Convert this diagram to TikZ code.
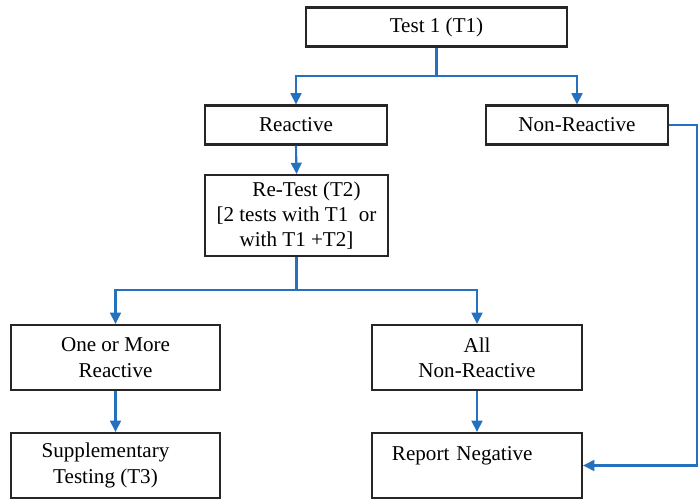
\documentclass[tikz,border=0pt]{standalone}
\usepackage{fontspec}
\setmainfont{Liberation Serif}
\usepackage{xcolor}
\usepackage{tikz}
\usetikzlibrary{arrows.meta, positioning}

\definecolor{flowblue}{RGB}{36,113,192}

\begin{document}
\begin{tikzpicture}[x=0.025cm, y=-0.025cm,
    font=\fontsize{15}{18}\selectfont,
    box/.style={draw=black!85, line width=1.5pt, inner sep=0pt, align=center},
    flow/.style={draw=flowblue, line width=1.5pt},
    arrow/.style={flow, -{Triangle[length=0.28cm,width=0.27cm]}}]

    \useasboundingbox (0,0) rectangle (699,500);

    % First test and its two outcomes
    \node[box, minimum width=6.525cm, minimum height=0.975cm] (t1) at (436.5,27) {Test 1 (T1)};
    \node[box, minimum width=4.55cm, minimum height=0.975cm] (react) at (296,125) {Reactive};
    \node[box, minimum width=4.55cm, minimum height=0.975cm] (nonreact) at (577,125) {Non-Reactive};

    % Re-test after a reactive result
    \node[box, minimum width=4.575cm, minimum height=2.025cm] (retest) at (296.5,215.5)
        {\hspace*{0.5cm}Re-Test (T2)\\{}[2 tests with T1\ \ or\\with T1 +T2]};

    % Outcomes of the re-test
    \node[box, minimum width=5.225cm, minimum height=1.625cm] (onemore) at (115.5,357.5) {One or More\\Reactive};
    \node[box, minimum width=5.25cm, minimum height=1.625cm] (allnon) at (477,357.5) {All\\Non-Reactive};

    % Final steps
    \node[box, minimum width=5.225cm, minimum height=1.625cm] (supp) at (115.5,465.5)
        {Supplementary\hspace*{0.5cm}\\Testing (T3)\hspace*{0.5cm}};
    \node[box, text width=4.25cm, inner xsep=0.5cm, align=left,
        text height=0.675cm, text depth=0.95cm] (report) at (477,465.5) {Report Negative};

    % Branch points and the return path
    \coordinate (split1) at (436.5,76);
    \coordinate (split2) at (296.5,290);
    \coordinate (corner) at (697,125);

    % Connectors
    \draw[flow] (t1.south) -- (split1);
    \draw[arrow] (split1) -| (react.north);
    \draw[arrow] (split1) -| (nonreact.north);
    \draw[arrow] (react.south) -- (retest.north);
    \draw[flow] (retest.south) -- (split2);
    \draw[arrow] (split2) -| (onemore.north);
    \draw[arrow] (split2) -| (allnon.north);
    \draw[arrow] (onemore.south) -- (supp.north);
    \draw[arrow] (allnon.south) -- (report.north);
    \draw[arrow] (nonreact.east) -- (corner) |- (report.east);

\end{tikzpicture}
\end{document}
